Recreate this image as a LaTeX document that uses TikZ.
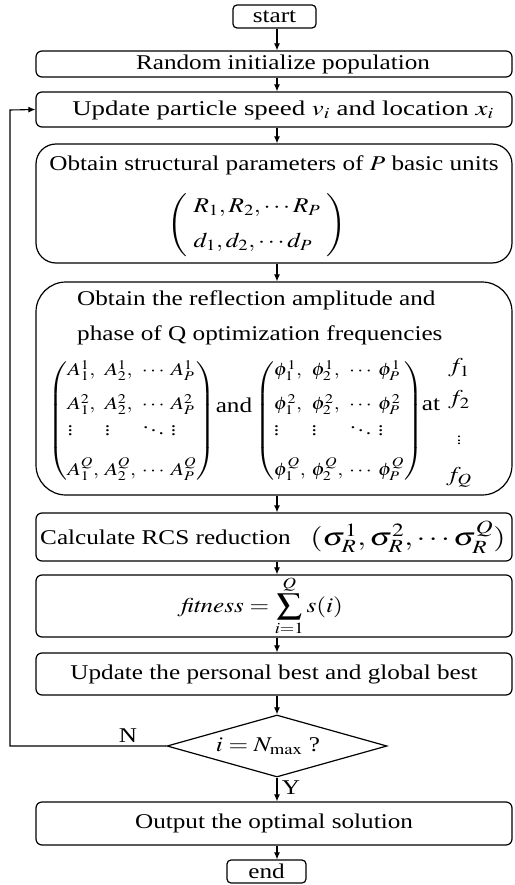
\documentclass[tikz,border=0pt]{standalone}
\usepackage{graphicx}
\usepackage{mathptmx}
\usepackage{fontspec}
\setmainfont{Liberation Serif}
\usetikzlibrary{shapes.geometric,arrows.meta,calc}
\newcommand{\hsc}[1]{\scalebox{1.2}[1]{#1}}
\begin{document}
\begin{tikzpicture}[x=1pt,y=-1pt,
  box/.style={draw,line width=1.2pt,rounded corners=6pt,minimum width=476pt,inner sep=0pt,font=\fontsize{21}{25}\selectfont},
  txt/.style={inner sep=0pt,font=\fontsize{21}{25}\selectfont},
  mtx/.style={inner sep=0pt,font=\fontsize{18}{22}\selectfont},
  arr/.style={line width=1.1pt,-{Latex[length=7pt,width=6pt]}},
  lbl/.style={inner sep=0pt,font=\fontsize{21}{25}\selectfont}]
\useasboundingbox (0,0) rectangle (514,885);
% boxes
\node[box,minimum width=83pt,minimum height=23pt,rounded corners=4pt] (start) at (274.5,16.5) {\hsc{start}};
\node[box,minimum height=26pt] (init) at (274,64) {};
\node[box,minimum height=35pt] (update) at (274,109.5) {};
\node[box,minimum height=119pt,rounded corners=20pt] (struct) at (274,203.5) {};
\node[box,minimum height=213pt,rounded corners=30pt] (refl) at (274,388.5) {};
\node[box,minimum height=48pt] (rcs) at (274,537) {};
\node[box,minimum height=62pt] (fit) at (274,606) {};
\node[box,minimum height=42pt] (pbest) at (274,674) {\hsc{Update the personal best and global best}};
\node[draw,line width=1.2pt,diamond,minimum width=220pt,minimum height=62pt,inner sep=0pt] (dec) at (277,746) {};
\node[box,minimum height=43pt] (out) at (274,823.5) {\hsc{Output the optimal solution}};
\node[box,minimum width=79pt,minimum height=23pt,rounded corners=4pt] (end) at (266.5,871.5) {\hsc{end}};
% contents
\node[txt] (initT) at (283,64) {\hsc{Random initialize\ population}};
\node[txt] (updT) at (283,110) {\scalebox{1.28}[1]{Update particle speed $v_i$ and location $x_i$}};
\node[txt] (structT) at (274,165) {\hsc{Obtain structural parameters of $P$ basic units}};
\node[txt] (structM) at (257,225) {\hsc{$\left(\begin{array}{l} R_1, R_2, \cdots R_P \\[10pt] d_1, d_2, \cdots d_P\end{array}\right)$}};
\node[txt,anchor=base west] (reflA) at (77,305) {\hsc{Obtain the reflection amplitude and}};
\node[txt,anchor=base west] (reflB) at (77,340) {\hsc{phase of Q optimization\ frequencies}};
\node[mtx] (matA) at (132,421) {\hsc{$\setlength{\arraycolsep}{2.4pt}\left(\begin{array}{@{}llll@{}}
A_1^1, & A_2^1, & \cdots & A_P^1 \\[12pt]
A_1^2, & A_2^2, & \cdots & A_P^2 \\[3pt]
\vdots & \vdots & \ddots & \vdots \\[16pt]
A_1^Q, & A_2^Q, & \cdots & A_P^Q
\end{array}\right)$}};
\node[txt] (andT) at (234,405) {\hsc{and}};
\node[mtx] (matB) at (339,421) {\hsc{$\setlength{\arraycolsep}{2.4pt}\left(\begin{array}{@{}llll@{}}
\phi_1^1, & \phi_2^1, & \cdots & \phi_P^1 \\[12pt]
\phi_1^2, & \phi_2^2, & \cdots & \phi_P^2 \\[3pt]
\vdots & \vdots & \ddots & \vdots \\[16pt]
\phi_1^Q, & \phi_2^Q, & \cdots & \phi_P^Q
\end{array}\right)$}};
\node[txt] (atT) at (431,405) {\hsc{at}};
\node[txt] (f1) at (459,368) {\hsc{$f_1$}};
\node[txt] (f2) at (459,400) {\hsc{$f_2$}};
\node[mtx] (fd) at (459,438) {\scalebox{1}[0.8]{$\vdots$}};
\node[txt] (fQ) at (459,477) {\hsc{$f_Q$}};
\node[txt,anchor=west] (rcsT) at (40,537) {\hsc{Calculate RCS reduction}};
\node[txt] (rcsM) at (408,537) {\scalebox{1.5}[1.2]{$(\sigma_R^1, \sigma_R^2, \cdots \sigma_R^Q)$}};
\node[txt] (fitT) at (262,606) {\hsc{$\displaystyle \mathit{fitness} = \sum_{i=1}^{Q} s(i)$}};
\node[txt] (decT) at (268,746) {\hsc{$i = N_{\max}$ ?}};
% arrows
\coordinate (ax) at (277,0);
\draw[arr] (start.south -| ax) -- (init.north -| ax);
\draw[arr] (init.south -| ax) -- (update.north -| ax);
\draw[arr] (update.south -| ax) -- (struct.north -| ax);
\draw[arr] (struct.south -| ax) -- (refl.north -| ax);
\draw[arr] (refl.south -| ax) -- (rcs.north -| ax);
\draw[arr] (rcs.south -| ax) -- (fit.north -| ax);
\draw[arr] (fit.south -| ax) -- (pbest.north -| ax);
\draw[arr] (pbest.south -| ax) -- (dec.north);
\draw[arr] (dec.south) -- (out.north -| dec.south);
\draw[arr] (out.south -| ax) -- (end.north -| ax);
\coordinate (lp) at (10,110);
\draw[arr] (dec.west) -| (lp) -- (update.west);
\node[lbl] (N) at (128,736) {\hsc{N}};
\node[lbl] (Y) at (291,788) {\hsc{Y}};
\end{tikzpicture}
\end{document}
